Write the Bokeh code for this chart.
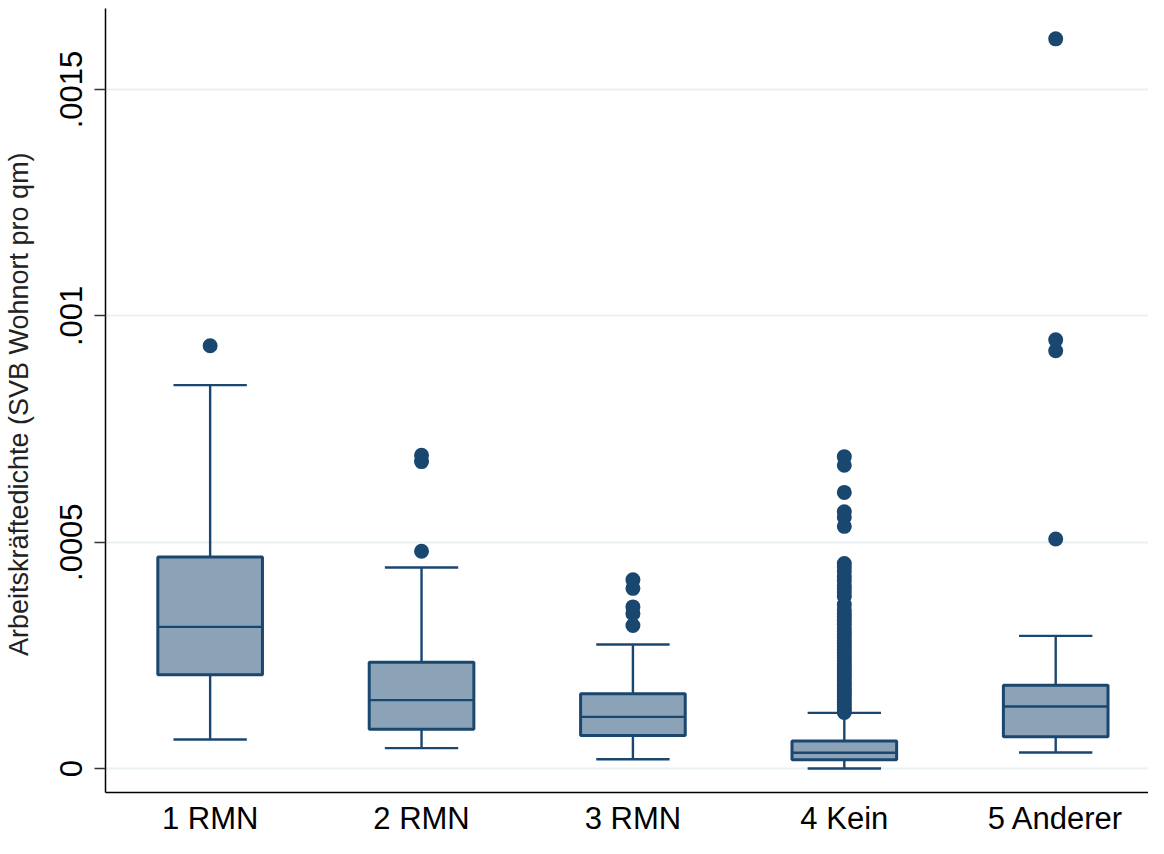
from bokeh.plotting import figure
from bokeh.models import Range1d, FixedTicker, ColumnDataSource
from bokeh.embed import file_html
from bokeh.resources import INLINE

categories = ["1 RMN", "2 RMN", "3 RMN", "4 Kein", "5 Anderer"]
lower = [0.0000642, 0.000045, 0.0000206, 0.0, 0.0000354]
q1 = [0.000207, 0.000087, 0.000073, 0.0000192, 0.000070]
median = [0.000313, 0.000151, 0.000114, 0.0000347, 0.000137]
q3 = [0.000467, 0.000235, 0.000165, 0.0000605, 0.000184]
upper = [0.000847, 0.000444, 0.000274, 0.000123, 0.000293]

outliers_1 = [0.000934]
outliers_2 = [0.000480, 0.000678, 0.000692]
outliers_3 = [0.000316, 0.000342, 0.000357, 0.000398, 0.000417]
outliers_4 = [0.000689, 0.000670, 0.000610, 0.000567, 0.000555, 0.000535,
              0.000453, 0.000445, 0.000436, 0.000425, 0.000415, 0.000405,
              0.000398, 0.000390, 0.000380, 0.000362, 0.000350, 0.000342,
              0.000335, 0.000327, 0.000318, 0.000310, 0.000303, 0.000296,
              0.000290, 0.000283, 0.000276, 0.000270, 0.000263, 0.000257,
              0.000250, 0.000244, 0.000238, 0.000231, 0.000225, 0.000219,
              0.000213, 0.000207, 0.000201, 0.000195, 0.000189, 0.000183,
              0.000177, 0.000171, 0.000165, 0.000159, 0.000153, 0.000147,
              0.000141, 0.000135, 0.000129, 0.000124]
outliers_5 = [0.000507, 0.000923, 0.000947, 0.001612]

y_ticks = [0, 0.0005, 0.001, 0.0015]
y_tick_labels = ["0", ".0005", ".001", ".0015"]

outline = "#1a476f"
fill = "#8ca3b7"

xs = [i + 1 for i in range(len(categories))]
box_w = 0.495
cap_w = 0.347

p = figure(width=1148, height=838, output_backend="svg", toolbar_location=None,
           x_range=Range1d(0.505, 5.439), y_range=Range1d(-0.000053, 0.001679))
p.min_border_left = 103
p.min_border_right = 0
p.min_border_top = 8
p.min_border_bottom = 44
p.outline_line_color = None
p.background_fill_color = "white"

# grid
p.xgrid.visible = False
p.ygrid.ticker = FixedTicker(ticks=y_ticks)
p.ygrid.grid_line_color = "#eaf2f3"
p.ygrid.grid_line_width = 2

# whiskers
src = ColumnDataSource(dict(x=xs, lower=lower, q1=q1, median=median, q3=q3, upper=upper,
                            xl=[x - cap_w / 2 for x in xs], xr=[x + cap_w / 2 for x in xs],
                            bl=[x - box_w / 2 for x in xs], br=[x + box_w / 2 for x in xs]))
p.segment(x0="x", y0="q3", x1="x", y1="upper", source=src, line_color=outline, line_width=2.4)
p.segment(x0="x", y0="q1", x1="x", y1="lower", source=src, line_color=outline, line_width=2.4)
p.segment(x0="xl", y0="upper", x1="xr", y1="upper", source=src, line_color=outline, line_width=2.4)
p.segment(x0="xl", y0="lower", x1="xr", y1="lower", source=src, line_color=outline, line_width=2.4)
p.vbar(x="x", bottom="q1", top="q3", width=box_w, source=src,
       fill_color=fill, line_color=outline, line_width=3)
p.segment(x0="bl", y0="median", x1="br", y1="median", source=src, line_color=outline, line_width=2.4)

all_out = [outliers_1, outliers_2, outliers_3, outliers_4, outliers_5]
ox, oy = [], []
for x, vals in zip(xs, all_out):
    for v in vals:
        ox.append(x)
        oy.append(v)
p.scatter(ox, oy, size=15, fill_color=outline, line_color=outline, line_width=0)

# x axis
p.xaxis.ticker = FixedTicker(ticks=xs)
p.xaxis.major_label_overrides = {x: c for x, c in zip(xs, categories)}
p.xaxis.major_tick_line_color = None
p.xaxis.major_tick_out = 0
p.xaxis.major_tick_in = 0
p.xaxis.minor_tick_line_color = None
p.xaxis.axis_line_color = "black"
p.xaxis.axis_line_width = 1.5
p.xaxis.major_label_text_font = "Liberation Sans"
p.xaxis.major_label_text_font_size = "31px"
p.xaxis.major_label_text_color = "black"
p.xaxis.major_label_standoff = 8

# y axis
p.yaxis.ticker = FixedTicker(ticks=y_ticks)
p.yaxis.major_label_overrides = {t: l for t, l in zip(y_ticks, y_tick_labels)}
p.yaxis.major_label_orientation = "vertical"
p.yaxis.major_label_text_font = "Liberation Sans Narrow, Liberation Sans"
p.yaxis.major_label_text_font_size = "31px"
p.yaxis.major_label_text_color = "black"
p.yaxis.major_label_standoff = 12
p.yaxis.major_tick_out = 11
p.yaxis.major_tick_in = 0
p.yaxis.major_tick_line_color = "#333333"
p.yaxis.major_tick_line_width = 1.5
p.yaxis.minor_tick_line_color = None
p.yaxis.axis_line_color = "black"
p.yaxis.axis_line_width = 1.5
p.yaxis.axis_label = "Arbeitskräftedichte (SVB Wohnort  pro qm)"
p.yaxis.axis_label_text_font = "Liberation Sans Narrow, Liberation Sans"
p.yaxis.axis_label_text_font_style = "normal"
p.yaxis.axis_label_text_font_size = "27px"
p.yaxis.axis_label_text_color = "#222222"
p.yaxis.axis_label_standoff = 24

open("out.html", "w").write(file_html(p, INLINE))
